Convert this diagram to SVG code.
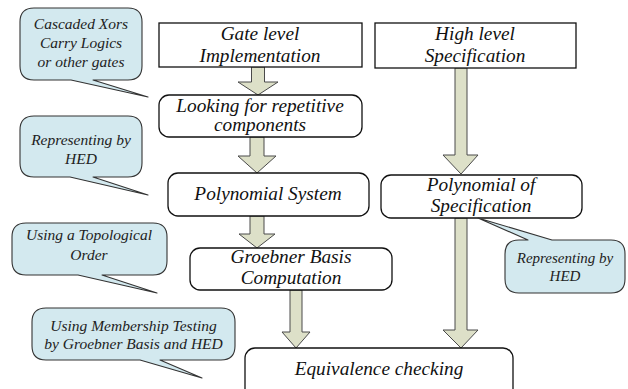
<svg xmlns="http://www.w3.org/2000/svg" width="628" height="389" viewBox="0 0 628 389">
<style>
.box{fill:#fff;stroke:#111;stroke-width:1.3}
.arr{fill:#dde0c8;stroke:#4a4a4a;stroke-width:1}
.call{fill:#d3e9ef;stroke:#333;stroke-width:1.1;stroke-linejoin:round}
text{font-family:'Liberation Serif','Times New Roman',serif;font-style:italic;text-anchor:middle}
.t{font-size:19.3px;fill:#111}
.c{font-size:15.5px;fill:#222}
.s{font-size:15px}
</style>
<rect width="628" height="389" fill="#fff"/>
<g id="connectors">
<polygon class="arr" points="251.5,67 264.5,67 264.5,82 278,82 258,95 238,82 251.5,82"/>
<polygon class="arr" points="250,137 264,137 264,156 276,156 257,173 238,156 250,156"/>
<polygon class="arr" points="250,216 264,216 264,234 275,234 257,248 239,234 250,234"/>
<polygon class="arr" points="290,290 302,290 302,332 310,332 296,348 282,332 290,332"/>
<polygon class="arr" points="455,68 467,68 467,155 478,155 461,174 443,155 455,155"/>
<polygon class="arr" points="455,218 467,218 467,330 478,330 461,348 443,330 455,330"/>
</g>
<g id="gate">
<rect class="box" x="159" y="23" width="203" height="44"/>
<text class="t" x="260" y="40">Gate level</text>
<text class="t" x="260" y="62">Implementation</text>
</g>
<g id="high">
<rect class="box" x="375" y="23" width="201" height="45"/>
<text class="t" x="475" y="40">High level</text>
<text class="t" x="475" y="62">Specification</text>
</g>
<g id="looking">
<rect class="box" x="159" y="95" width="203" height="42" rx="10"/>
<text class="t" x="260" y="112">Looking for repetitive</text>
<text class="t" x="260" y="131">components</text>
</g>
<g id="polysys">
<rect class="box" x="168" y="173" width="201" height="43" rx="10"/>
<text class="t" x="268" y="200">Polynomial System</text>
</g>
<g id="polyspec">
<rect class="box" x="381" y="175" width="201" height="43" rx="10"/>
<text class="t" x="481" y="191">Polynomial of</text>
<text class="t" x="481" y="212">Specification</text>
</g>
<g id="groebner">
<rect class="box" x="190" y="248" width="202" height="42" rx="10"/>
<text class="t" x="291" y="263">Groebner Basis</text>
<text class="t" x="291" y="284">Computation</text>
</g>
<g id="equiv">
<rect class="box" x="245" y="348" width="268" height="55" rx="10"/>
<text class="t" x="379" y="375">Equivalence checking</text>
</g>
<g id="callout1">
<path class="call" d="M34,8 H128 Q142,8 142,22 V66 Q142,80 128,80 H93 L148,97 L71,80 H34 Q20,80 20,66 V22 Q20,8 34,8 Z"/>
<text class="c" x="81" y="29">Cascaded Xors</text>
<text class="c" x="81" y="48">Carry Logics</text>
<text class="c" x="81" y="67">or other gates</text>
</g>
<g id="callout2">
<path class="call" d="M34,116 H128 Q142,116 142,130 V163 Q142,177 128,177 H93 L148,195 L70,177 H34 Q20,177 20,163 V130 Q20,116 34,116 Z"/>
<text class="c" x="81" y="145">Representing by</text>
<text class="c" x="81" y="164">HED</text>
</g>
<g id="callout3">
<path class="call" d="M26,223 H153 Q167,223 167,237 V261 Q167,275 153,275 H102 L157,293 L78,275 H26 Q12,275 12,261 V237 Q12,223 26,223 Z"/>
<text class="c" x="89" y="240">Using a Topological</text>
<text class="c" x="89" y="260">Order</text>
</g>
<g id="callout4">
<path class="call" d="M46,308 H221 Q235,308 235,322 V346 Q235,360 221,360 H160 L202,378 L140,360 H46 Q32,360 32,346 V322 Q32,308 46,308 Z"/>
<text class="c" x="133.5" y="331">Using Membership Testing</text>
<text class="c" x="133.5" y="349">by Groebner Basis and HED</text>
</g>
<g id="callout5">
<path class="call" d="M519,240 H528 L478,218 L552,240 H611 Q625,240 625,254 V279 Q625,293 611,293 H519 Q505,293 505,279 V254 Q505,240 519,240 Z"/>
<text class="c s" x="565" y="263">Representing by</text>
<text class="c s" x="565" y="281">HED</text>
</g>
</svg>
